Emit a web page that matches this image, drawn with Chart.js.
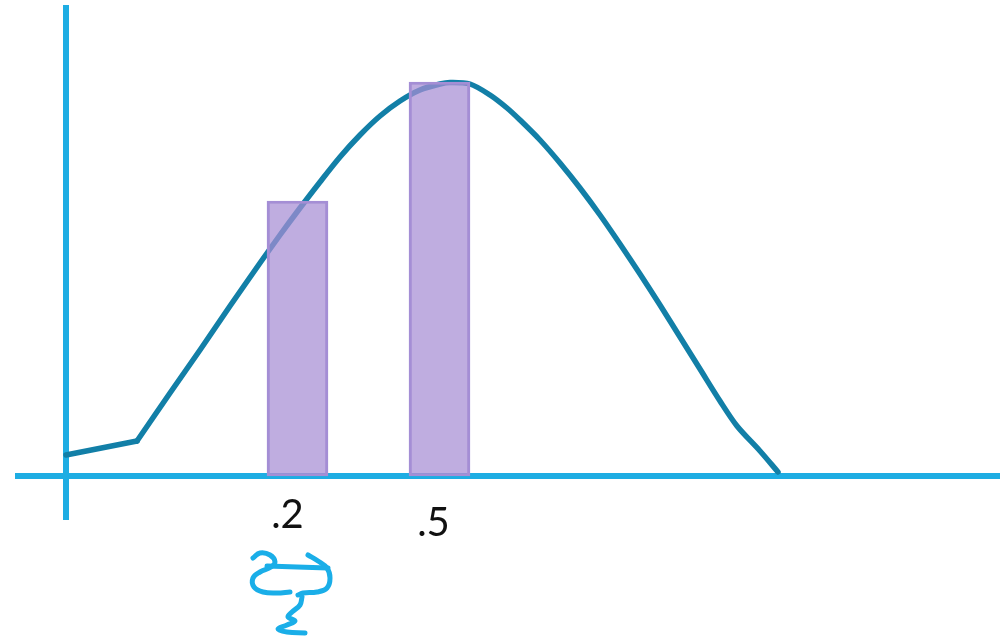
<!DOCTYPE html>
<html>
<head>
<meta charset="utf-8">
<script src="https://cdn.jsdelivr.net/npm/chart.js@4"></script>
<style>
  html, body { margin: 0; padding: 0; background: #fff; }
  #wrap { width: 1007px; height: 639px; position: relative; }
</style>
</head>
<body>
<div id="wrap"><canvas id="sketchChart"></canvas></div>
<script>
// Data (x = distance right of the y axis, y = height above the x axis)
const curveStart = [{x: 0, y: 21}, {x: 71, y: 35}];
const curveX = [71, 104, 134, 164, 194, 214, 234, 254, 274, 294, 314, 334, 354, 374, 384, 404, 424, 441, 454, 474, 494, 514, 534, 554, 574, 594, 614, 634, 654, 671, 694, 712];
const curveY = [35, 83, 126, 170, 213, 241, 268, 294, 319, 341, 360, 375, 386, 392, 393.5, 392, 381, 368, 356, 336, 313, 288, 261, 232, 202, 171, 139, 107, 75, 50, 25, 4];

const barX = [231.5, 373.5];
const barY = [275, 394];
const tickLabels = ['.2', '.5'];

// axis extents
const xAxisLine = [{x: -51, y: 0}, {x: 934, y: 0}];
const yAxisLine = [{x: 0, y: -44}, {x: 0, y: 471}];

// hand-written note under ".2"
const noteStrokeA = [[187, -82], [194, -77], [204, -79], [209, -86], [205, -91], [194, -96], [187, -102], [188, -111], [197, -116], [211, -117], [224, -116]];
const noteStrokeB = [[201, -90], [231, -91], [262, -92]];
const noteStrokeC = [[242, -79], [252, -85], [261, -92], [264, -102], [261, -112], [251, -116], [237, -117], [232, -119]];
const noteStrokeD = [[236, -121], [234, -129], [226, -136], [222, -141], [229, -145], [221, -149], [212, -153], [221, -156], [239, -157]];

// Colors
const axisColor = '#1eade3';
const curveColor = '#127fa7';
const barFill = 'rgba(166,142,212,0.72)';
const barBorder = '#a48ed5';
const noteColor = '#1aaee8';

const toPts = arr => arr.map(p => ({x: p[0], y: p[1]}));
const curvePts = curveX.map((x, i) => ({x: x, y: curveY[i]}));
const barPts = barX.map((x, i) => ({x: x, y: barY[i]}));

function noteDataset(stroke) {
    return {
        type: 'line',
        data: toPts(stroke),
        borderColor: noteColor,
        borderWidth: 5,
        borderCapStyle: 'round',
        borderJoinStyle: 'round',
        tension: 0.4,
        pointRadius: 0,
        order: 0
    };
}

// tick labels placed under the bars
const tickLabelPlugin = {
    id: 'tickLabels',
    afterDatasetsDraw: (chart) => {
        const ctx = chart.ctx;
        const xs = chart.scales.x;
        const ys = chart.scales.y;
        const offsets = [{dx: -10, dy: -39}, {dx: -6, dy: -47}];
        ctx.save();
        ctx.fillStyle = '#111';
        ctx.font = '40px Lato, "Open Sans", sans-serif';
        ctx.textAlign = 'center';
        ctx.textBaseline = 'middle';
        tickLabels.forEach((t, i) => {
            const px = xs.getPixelForValue(barX[i] + offsets[i].dx);
            const py = ys.getPixelForValue(offsets[i].dy);
            ctx.fillText(t, px, py);
        });
        ctx.restore();
    }
};

new Chart(document.getElementById('sketchChart').getContext('2d'), {
    type: 'bar',
    data: {
        datasets: [
            {
                type: 'bar',
                data: barPts,
                backgroundColor: barFill,
                borderColor: barBorder,
                borderWidth: 2.5,
                borderSkipped: false,
                barThickness: 61,
                order: 1
            },
            {
                type: 'line',
                data: curveStart,
                borderColor: curveColor,
                borderWidth: 5.5,
                borderCapStyle: 'round',
                tension: 0,
                pointRadius: 0,
                order: 2
            },
            {
                type: 'line',
                data: curvePts,
                borderColor: curveColor,
                borderWidth: 5.5,
                borderCapStyle: 'round',
                borderJoinStyle: 'round',
                tension: 0.3,
                pointRadius: 0,
                order: 2
            },
            {
                type: 'line',
                data: xAxisLine,
                borderColor: axisColor,
                borderWidth: 6,
                borderCapStyle: 'butt',
                pointRadius: 0,
                order: 3
            },
            {
                type: 'line',
                data: yAxisLine,
                borderColor: axisColor,
                borderWidth: 6,
                borderCapStyle: 'butt',
                pointRadius: 0,
                order: 3
            },
            noteDataset(noteStrokeA),
            noteDataset(noteStrokeB),
            noteDataset(noteStrokeC),
            noteDataset(noteStrokeD)
        ]
    },
    options: {
        responsive: true,
        maintainAspectRatio: false,
        animation: false,
        layout: { padding: 0 },
        plugins: {
            legend: { display: false },
            tooltip: { enabled: false }
        },
        scales: {
            x: { type: 'linear', min: -66, max: 941, offset: false, display: false },
            y: { type: 'linear', min: -163, max: 476, display: false }
        }
    },
    plugins: [tickLabelPlugin]
});
</script>
</body>
</html>
